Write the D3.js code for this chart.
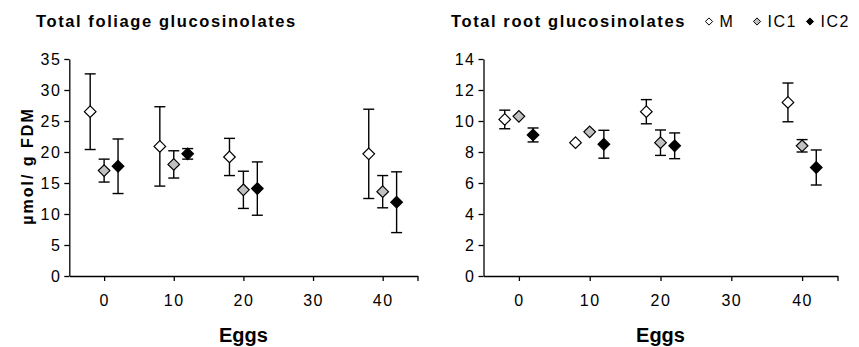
<!DOCTYPE html>
<html>
<head>
<meta charset="utf-8">
<script src="https://cdn.jsdelivr.net/npm/d3@7"></script>
<style>
  body { margin: 0; background: #fff; }
  text { font-family: "Liberation Sans", Arial, sans-serif; fill: #000; }
</style>
</head>
<body>
<div class="chart"></div>
<script>
// data
const eggs = [0, 10, 20, 40];
const seriesNames = ['M', 'IC1', 'IC2'];

const foliageM = [26.5, 20.9, 19.2, 19.7];
const foliageMErr = [6.1, 6.4, 3.0, 7.2];
const foliageIC1 = [17.0, 18.0, 13.9, 13.6];
const foliageIC1Err = [1.85, 2.2, 3.0, 2.6];
const foliageIC2 = [17.7, 19.7, 14.1, 11.9];
const foliageIC2Err = [4.4, 0.85, 4.3, 4.9];

const rootM = [10.1, 8.6, 10.6, 11.2];
const rootMErr = [0.6, 0, 0.78, 1.25];
const rootIC1 = [10.3, 9.3, 8.6, 8.4];
const rootIC1Err = [0, 0, 0.82, 0.4];
const rootIC2 = [9.1, 8.5, 8.4, 7.0];
const rootIC2Err = [0.45, 0.9, 0.83, 1.13];

const xTicks = [0, 10, 20, 30, 40];
const foliageTicks = [0, 5, 10, 15, 20, 25, 30, 35];
const rootTicks = [0, 2, 4, 6, 8, 10, 12, 14];

// horizontal shift of each series so the diamonds don't overlap
const shift = { M: -2, IC1: 0, IC2: 2 };
const fills = { M: '#ffffff', IC1: '#c0c0c0', IC2: '#000000' };

const W = 859, H = 347;
const svg = d3.select('.chart').append('svg')
  .attr('width', W).attr('height', H);
svg.append('rect').attr('width', W).attr('height', H).attr('fill', '#fff');

const diamond = (s) => `M0,${-s} L${s},0 L0,${s} L${-s},0 Z`;

function drawPanel(opt) {
  const x = d3.scaleLinear().domain([-5, 45]).range([opt.left, opt.right]);
  const y = d3.scaleLinear().domain([0, opt.yMax]).range([276, 59]);

  // y axis
  const ya = svg.append('g')
    .attr('transform', `translate(${opt.left},0)`)
    .call(d3.axisLeft(y).tickValues(opt.yTicks).tickSize(5).tickPadding(3).tickSizeOuter(0));
  ya.selectAll('text').style('font-size', '16px').style('letter-spacing', '1.5px');

  // x axis (extra tick at the right end, no label)
  const xa = svg.append('g')
    .attr('transform', `translate(0,276)`)
    .call(d3.axisBottom(x).tickValues(xTicks.concat([45])).tickSize(5).tickPadding(14)
      .tickFormat(d => d === 45 ? '' : d).tickSizeOuter(0));
  xa.selectAll('text').style('font-size', '16px').style('letter-spacing', '1.5px');
  svg.selectAll('.domain, .tick line').attr('stroke', '#000').attr('stroke-width', 1.3);

  // series
  const rows = [];
  opt.series.forEach(s => {
    s.values.forEach((v, i) => rows.push({ name: s.name, x: eggs[i] + shift[s.name], v, e: s.err[i] }));
  });

  const g = svg.append('g');
  const bars = g.selectAll('.err').data(rows.filter(d => d.e > 0)).enter().append('g');
  bars.append('line')
    .attr('x1', d => x(d.x)).attr('x2', d => x(d.x))
    .attr('y1', d => y(d.v - d.e)).attr('y2', d => y(d.v + d.e));
  [1, -1].forEach(sg => {
    bars.append('line')
      .attr('x1', d => x(d.x) - 5.5).attr('x2', d => x(d.x) + 5.5)
      .attr('y1', d => y(d.v + sg * d.e)).attr('y2', d => y(d.v + sg * d.e));
  });
  bars.selectAll('line').attr('stroke', '#000').attr('stroke-width', 1.4);

  g.selectAll('.pt').data(rows).enter().append('path')
    .attr('transform', d => `translate(${x(d.x)},${y(d.v)})`)
    .attr('d', diamond(5.8))
    .attr('fill', d => fills[d.name])
    .attr('stroke', '#000').attr('stroke-width', 1.2);

  // title
  svg.append('text')
    .attr('x', opt.titleX).attr('y', 27.4)
    .style('font-size', '16.5px').style('font-weight', 'bold')
    .style('letter-spacing', '1.6px')
    .text(opt.title);

  // x label
  svg.append('text')
    .attr('x', (x(-5) + x(45)) / 2).attr('y', 341.5)
    .attr('text-anchor', 'middle')
    .style('font-size', '20px').style('font-weight', 'bold')
    .text('Eggs');
}

drawPanel({
  left: 69.3, right: 417.5, yMax: 35, yTicks: foliageTicks,
  title: 'Total foliage glucosinolates', titleX: 36,
  series: [
    { name: 'M', values: foliageM, err: foliageMErr },
    { name: 'IC1', values: foliageIC1, err: foliageIC1Err },
    { name: 'IC2', values: foliageIC2, err: foliageIC2Err }
  ]
});

drawPanel({
  left: 483.5, right: 837.5, yMax: 14, yTicks: rootTicks,
  title: 'Total root glucosinolates', titleX: 451,
  series: [
    { name: 'M', values: rootM, err: rootMErr },
    { name: 'IC1', values: rootIC1, err: rootIC1Err },
    { name: 'IC2', values: rootIC2, err: rootIC2Err }
  ]
});

// y label (left panel only)
svg.append('text')
  .attr('transform', 'translate(32.5,166) rotate(-90)')
  .attr('text-anchor', 'middle')
  .style('font-size', '16px').style('font-weight', 'bold')
  .style('letter-spacing', '2px')
  .text('µmol/ g FDM');

// legend next to the right title
const legendX = [709, 757, 810];
const legend = svg.append('g');
seriesNames.forEach((n, i) => {
  legend.append('path')
    .attr('transform', `translate(${legendX[i]},21.5)`)
    .attr('d', diamond(3.6))
    .attr('fill', fills[n]).attr('stroke', '#000').attr('stroke-width', 1);
  legend.append('text')
    .attr('x', legendX[i] + 10.5).attr('y', 27.4)
    .style('font-size', '16px').style('letter-spacing', '1.5px')
    .text(n);
});
</script>
</body>
</html>
